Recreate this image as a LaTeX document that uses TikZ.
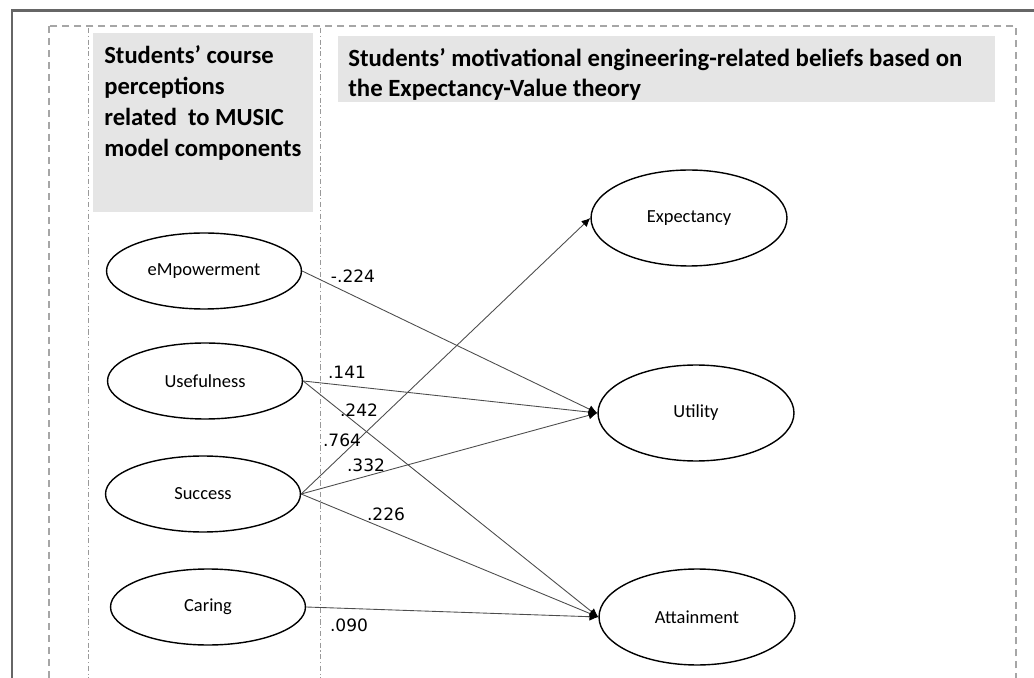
\documentclass[tikz,border=0pt]{standalone}
\usepackage{fontspec}
\setmainfont{Carlito}
\newfontfamily\coeffont{DejaVu Sans}
\usetikzlibrary{arrows.meta}
\usetikzlibrary{shapes.geometric}

\begin{document}
\begin{tikzpicture}[x=0.02cm,y=-0.02cm,>={Latex[length=5pt,width=4.6pt,color=black]},
        construct/.style={draw,ellipse,line width=0.8pt,minimum width=3.9cm,minimum height=1.52cm,inner sep=0pt,font=\fontsize{10.5}{12}\selectfont},
        outcome/.style={construct,minimum width=3.92cm,minimum height=1.92cm},
        effect/.style={->,draw=black!70,line width=0.5pt},
        coef/.style={inner sep=0pt,font=\coeffont\fontsize{9.7}{12}\selectfont},
        heading/.style={anchor=north west,inner sep=0pt,align=left}]
        \useasboundingbox (0,0) rectangle (1034,678);
        \clip (0,0) rectangle (1034,678);
        % frame and columns
        \draw [line width=1.3pt,draw=black!60] (12,700) -- (12,10.5) -- (1050,10.5);
        \draw [draw=black!35,line width=0.6pt,dash pattern=on 4pt off 2.8pt] (49,26) rectangle (1016,700);
        \draw [draw=black!40,line width=0.5pt,dash pattern=on 3pt off 1.5pt on 0.6pt off 1.5pt] (88,28) -- (88,700);
        \draw [draw=black!40,line width=0.5pt,dash pattern=on 3pt off 1.5pt on 0.6pt off 1.5pt] (320,28) -- (320,700);
        \fill [gray!20] (93,33) rectangle (313,212);
        \fill [gray!20] (338,36) rectangle (995,102);
        \node [heading,font=\bfseries\fontsize{14}{17.6}\selectfont] (musictitle) at (104,45) {Students’ course\\perceptions\\related\ \ to MUSIC\\model components};
        \node [heading,font=\bfseries\fontsize{14.1}{17}\selectfont] (evtitle) at (348,48) {Students’ motivational engineering-related beliefs based on\\the Expectancy-Value theory};
        % constructs
        \node [construct] (emp) at (204,271) {eMpowerment};
        \node [construct] (use) at (205,381) {Usefulness};
        \node [construct] (suc) at (203,494) {Success};
        \node [construct] (car) at (208,607) {Caring};
        \node [outcome] (exp) at (689,218) {Expectancy};
        \node [outcome] (uti) at (696,413) {Utility};
        \node [outcome] (att) at (697,617) {Attainment};
        % paths
        \draw [effect] (emp.east) -- (uti.west);
        \draw [effect] (use.east) -- (uti.west);
        \draw [effect] (use.east) -- (att.west);
        \draw [effect] (suc.east) -- (exp.west);
        \draw [effect] (suc.east) -- (uti.west);
        \draw [effect] (suc.east) -- (att.west);
        \draw [effect] (car.east) -- (att.west);
        \node [coef] (emputi) at (353,276) {-.224};
        \node [coef] (useuti) at (347,372) {.141};
        \node [coef] (useatt) at (359,410) {.242};
        \node [coef] (sucexp) at (342,440) {.764};
        \node [coef] (sucuti) at (366,465) {.332};
        \node [coef] (sucatt) at (386,514) {.226};
        \node [coef] (caratt) at (349,625) {.090};
    \end{tikzpicture}
\end{document}
